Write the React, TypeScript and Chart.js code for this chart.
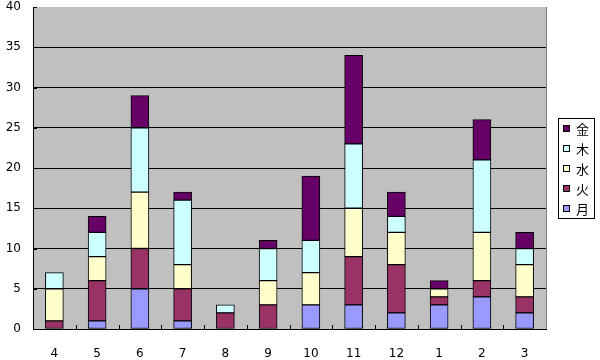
import React, { useEffect, useRef } from "react";
import { Chart, registerables } from "chart.js";

Chart.register(...registerables);

const months = ["4", "5", "6", "7", "8", "9", "10", "11", "12", "1", "2", "3"];
const seriesNames = ["月", "火", "水", "木", "金"];
const seriesColors = ["#9999FF", "#993366", "#FFFFCC", "#CCFFFF", "#660066"];
const monValues = [0, 1, 5, 1, 0, 0, 3, 3, 2, 3, 4, 2];
const tueValues = [1, 5, 5, 4, 2, 3, 0, 6, 6, 1, 2, 2];
const wedValues = [4, 3, 7, 3, 0, 3, 4, 6, 4, 1, 6, 4];
const thuValues = [2, 3, 8, 8, 1, 4, 4, 8, 2, 0, 9, 2];
const friValues = [0, 2, 4, 1, 0, 1, 8, 11, 3, 1, 5, 2];
const yMin = 0;
const yMax = 40;
const yStep = 5;

const numFont = { family: "'DejaVu Sans', sans-serif", size: 12 };
const cjkFont = "13px 'Noto Sans CJK JP', sans-serif";

const plotBg = {
  id: "plotBg",
  beforeDraw(chart: any) {
    const { ctx, chartArea: a } = chart;
    ctx.save();
    ctx.fillStyle = "#C0C0C0";
    ctx.fillRect(a.left, a.top, a.right - a.left, a.bottom - a.top);
    ctx.restore();
  },
};

const decorations = {
  id: "decorations",
  afterDraw(chart: any) {
    const { ctx, chartArea: a, scales } = chart;
    ctx.save();
    // right border of plot area
    ctx.strokeStyle = "#808080";
    ctx.lineWidth = 1;
    ctx.beginPath();
    ctx.moveTo(Math.round(a.right) + 0.5, a.top);
    ctx.lineTo(Math.round(a.right) + 0.5, a.bottom);
    ctx.stroke();
    // inward tick marks on x axis at category boundaries
    ctx.strokeStyle = "#000";
    const xs = scales.x;
    const n = months.length;
    for (let i = 1; i < n; i++) {
      const p = (xs.getPixelForValue(i - 1) + xs.getPixelForValue(i)) / 2;
      const px = Math.round(p) + 0.5;
      ctx.beginPath();
      ctx.moveTo(px, a.bottom);
      ctx.lineTo(px, a.bottom - 4);
      ctx.stroke();
    }
    // inward tick marks on y axis
    const ys = scales.y;
    for (let v = yMin; v <= yMax; v += yStep) {
      const py = Math.round(ys.getPixelForValue(v)) + 0.5;
      ctx.beginPath();
      ctx.moveTo(a.left, py);
      ctx.lineTo(a.left + 4, py);
      ctx.stroke();
    }
    // legend
    const lx = Math.round(a.right) + 12;
    const lw = 36;
    const itemH = 20;
    const lh = itemH * seriesNames.length;
    const ly = Math.round((a.top + a.bottom) / 2 - lh / 2);
    ctx.fillStyle = "#FFFFFF";
    ctx.fillRect(lx, ly, lw, lh);
    ctx.strokeStyle = "#000";
    ctx.strokeRect(lx + 0.5, ly + 0.5, lw, lh);
    ctx.font = cjkFont;
    ctx.textBaseline = "middle";
    ctx.textAlign = "left";
    for (let k = 0; k < seriesNames.length; k++) {
      const idx = seriesNames.length - 1 - k;
      const cy = ly + itemH * k + itemH / 2 + 1;
      ctx.fillStyle = seriesColors[idx];
      ctx.fillRect(lx + 5, Math.round(cy - 4), 7, 7);
      ctx.strokeStyle = "#000";
      ctx.strokeRect(lx + 5.5, Math.round(cy - 4) + 0.5, 6, 6);
      ctx.fillStyle = "#000";
      ctx.fillText(seriesNames[idx], lx + 18, cy);
    }
    ctx.restore();
  },
};

export default function App() {
  const ref = useRef<HTMLCanvasElement | null>(null);
  useEffect(() => {
    document.body.style.margin = "0";
    const values = [monValues, tueValues, wedValues, thuValues, friValues];
    const chart = new Chart(ref.current as HTMLCanvasElement, {
      type: "bar",
      data: {
        labels: months,
        datasets: seriesNames.map((name, i) => ({
          label: name,
          data: values[i],
          backgroundColor: seriesColors[i],
          borderColor: "#000000",
          borderWidth: 1,
          borderSkipped: false,
          barThickness: 18,
        })),
      },
      options: {
        responsive: false,
        animation: false,
        devicePixelRatio: 1,
        layout: { padding: { top: 7, right: 54, left: 0, bottom: 0 } },
        plugins: { legend: { display: false }, tooltip: { enabled: false } },
        scales: {
          x: {
            stacked: true,
            grid: { display: true, color: "rgba(0,0,0,0)", drawTicks: false },
            border: { display: true, color: "#000", width: 1 },
            ticks: { color: "#000", font: numFont, padding: 18, maxRotation: 0 },
            afterFit(scale: any) {
              scale.height = 31;
              scale.paddingLeft = 0;
              scale.paddingRight = 0;
            },
          },
          y: {
            stacked: true,
            min: yMin,
            max: yMax,
            grid: {
              drawTicks: false,
              color: (c: any) =>
                c.tick && (c.tick.value === yMin || c.tick.value === yMax) ? "rgba(0,0,0,0)" : "#000",
            },
            border: { display: true, color: "#000", width: 1 },
            ticks: { stepSize: yStep, color: "#000", font: numFont, padding: 12 },
            afterFit(scale: any) {
              scale.width = 33;
              scale.paddingTop = 0;
              scale.paddingBottom = 0;
            },
          },
        },
      },
      plugins: [plotBg, decorations],
    } as any);
    return () => chart.destroy();
  }, []);
  return <canvas ref={ref} width={600} height={360} style={{ display: "block" }} />;
}
